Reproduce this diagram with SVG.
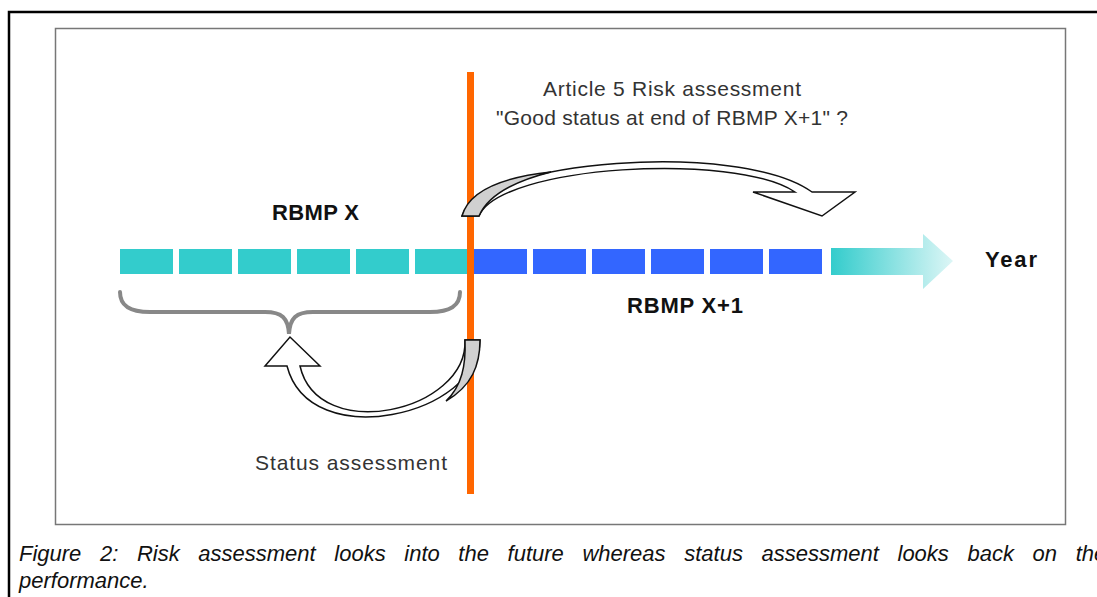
<svg xmlns="http://www.w3.org/2000/svg" width="1097" height="597" viewBox="0 0 1097 597">
<defs>
<linearGradient id="fade" x1="0" y1="0" x2="1" y2="0">
<stop offset="0" stop-color="#33CCCC"/>
<stop offset="1" stop-color="#DDF6F6"/>
</linearGradient>
<style>
.lbl{font-family:"Liberation Sans",Arial,sans-serif;font-size:21px;fill:#333}
.bold{font-family:"Liberation Sans",Arial,sans-serif;font-size:22px;font-weight:bold;fill:#111}
.cap{font-family:"Liberation Sans",Arial,sans-serif;font-size:22px;font-style:italic;fill:#111}
.cy{fill:#33CCCC}
.bl{fill:#3366FF}
.arr{fill:#fff;stroke:#111;stroke-width:1.5;stroke-linejoin:miter}
.back{fill:#D0D0D0;stroke:#111;stroke-width:1.5}
</style>
</defs>
<rect width="1097" height="597" fill="#fff"/>
<rect x="9" y="12" width="1100" height="600" fill="none" stroke="#000" stroke-width="2.5"/>
<rect x="55.5" y="28.5" width="1010" height="496" fill="none" stroke="#777" stroke-width="1.5"/>

<g id="timeline">
<rect class="cy" x="120" y="249" width="53" height="25"/>
<rect class="cy" x="179" y="249" width="53" height="25"/>
<rect class="cy" x="238" y="249" width="53" height="25"/>
<rect class="cy" x="297" y="249" width="53" height="25"/>
<rect class="cy" x="356" y="249" width="53" height="25"/>
<rect class="cy" x="415" y="249" width="55" height="25"/>
<rect class="bl" x="474" y="249" width="53" height="25"/>
<rect class="bl" x="533" y="249" width="53" height="25"/>
<rect class="bl" x="592" y="249" width="53" height="25"/>
<rect class="bl" x="651" y="249" width="53" height="25"/>
<rect class="bl" x="710" y="249" width="53" height="25"/>
<rect class="bl" x="769" y="249" width="53" height="25"/>
<path d="M831,248 L923,248 L923,234 L953,261 L923,289 L923,275 L831,275 Z" fill="url(#fade)"/>
</g>

<g id="brace">
<path d="M120,292 C120,306 130,312 150,312 L265,312 C282,312 288,318 289,334 C290,318 296,312 313,312 L430,312 C450,312 460,306 460,292" fill="none" stroke="#888" stroke-width="4" stroke-linecap="round"/>
</g>

<g id="divider">
<rect x="467" y="72" width="7" height="422" fill="#FF6600"/>
</g>

<g id="connectors">
<path class="arr" d="M462,216 C480,160 740,140 812,192 L855,192 L822,216 L753,192 L795,192 C735,152 500,165 479,216 Z"/>
<path class="back" d="M462,216 C468,194 495,178 551,172 C515,181 488,195 479,216 Z"/>
<path class="arr" d="M287,366 C310,455 480,415 480,340 L465,340 C468,412 318,445 300,366 L320,366 L290,337 L265,366 Z"/>
<path class="back" d="M465,340 L480,340 C480,365 472,386 446,401 C462,386 466,365 465,340 Z"/>
</g>

<g id="labels">
<text class="lbl" x="543" y="96" textLength="258" lengthAdjust="spacing">Article 5 Risk assessment</text>
<text class="lbl" x="496" y="125" textLength="352" lengthAdjust="spacing">"Good status at end of RBMP X+1" ?</text>
<text class="bold" x="272" y="220" textLength="87" lengthAdjust="spacing">RBMP X</text>
<text class="bold" x="627" y="313" textLength="116" lengthAdjust="spacing">RBMP X+1</text>
<text class="bold" x="985" y="267" textLength="52" lengthAdjust="spacing">Year</text>
<text class="lbl" x="255" y="470" textLength="192" lengthAdjust="spacing">Status assessment</text>
</g>

<g id="caption">
<text class="cap" x="19" y="561" word-spacing="12.5">Figure 2: Risk assessment looks into the future whereas status assessment looks back on the</text>
<text class="cap" x="19" y="588">performance.</text>
</g>
</svg>
